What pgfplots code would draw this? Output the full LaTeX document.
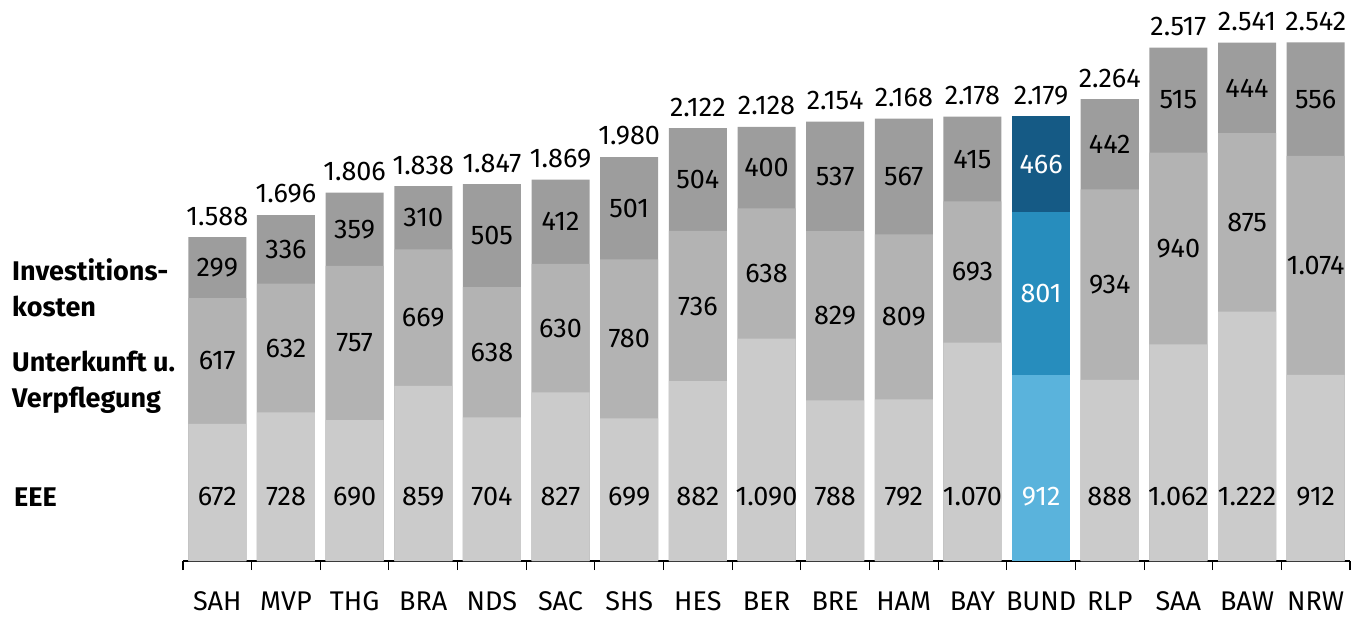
\documentclass[border=0pt]{standalone}
\usepackage{fontspec}
\setmainfont{Fira Sans}
\usepackage{pgfplots}
\usepackage{pgfplotstable}
\pgfplotsset{compat=1.18}

\definecolor{ginv}{HTML}{9D9D9D}
\definecolor{guv}{HTML}{B3B3B3}
\definecolor{geee}{HTML}{CBCBCB}
\definecolor{binv}{HTML}{155A85}
\definecolor{buv}{HTML}{278DBD}
\definecolor{beee}{HTML}{5AB3DC}

\newcommand{\lbl}{\fontsize{27}{36}\selectfont}

\pgfplotstableread{
x name eee uv inv
0 SAH 672 617 299
1 MVP 728 632 336
2 THG 690 757 359
3 BRA 859 669 310
4 NDS 704 638 505
5 SAC 827 630 412
6 SHS 699 780 501
7 HES 882 736 504
8 BER 1090 638 400
9 BRE 788 829 537
10 HAM 792 809 567
11 BAY 1070 693 415
12 BUND 912 801 466
13 RLP 888 934 442
14 SAA 1062 940 515
15 BAW 1222 875 444
16 NRW 912 1074 556
}\data

\pgfplotsset{
  nobund/.style={x filter/.expression={x==12 ? nan : x}},
  bund/.style={x filter/.expression={x==12 ? x : nan}},
  seg/.style={ybar, bar shift=0pt, draw=none, fill=#1},
  lab/.style={draw=none, mark=none, nodes near coords,
    every node near coord/.append style={anchor=center, font=\lbl, text=#1}},
}

\begin{document}
\begin{tikzpicture}
\begin{axis}[
  scale only axis, width=1167pt, height=561pt,
  xmin=-0.5, xmax=16.5, ymin=0, ymax=2750,
  axis x line*=bottom, axis y line=none, ytick=\empty,
  axis line style={line width=1.3pt, black},
  xtick={0,...,16}, xticklabels from table={\data}{name},
  major tick length=0pt,
  minor xtick={-0.5,0.5,...,16.5},
  minor tick length=9pt, tick align=outside,
  minor tick style={line width=1.1pt, black},
  xticklabel style={font=\lbl, anchor=base, inner sep=0pt, yshift=-49pt},
  bar width=0.845,
  clip=false,
  /pgf/number format/.cd, fixed, precision=0, 1000 sep={.}, assume math mode=true,
]
% bars, drawn from the top segment down so that they overlap
\addplot[seg=ginv, nobund] table[x=x, y expr=\thisrow{eee}+\thisrow{uv}+\thisrow{inv}] {\data};
\addplot[seg=guv, nobund] table[x=x, y expr=\thisrow{eee}+\thisrow{uv}] {\data};
\addplot[seg=geee, nobund] table[x=x, y=eee] {\data};
\addplot[seg=binv, bund] table[x=x, y expr=\thisrow{eee}+\thisrow{uv}+\thisrow{inv}] {\data};
\addplot[seg=buv, bund] table[x=x, y expr=\thisrow{eee}+\thisrow{uv}] {\data};
\addplot[seg=beee, bund] table[x=x, y=eee] {\data};

% segment values
\addplot[lab=black, nobund, point meta=explicit] table[x=x, y expr=\thisrow{eee}+\thisrow{uv}+\thisrow{inv}/2, meta=inv] {\data};
\addplot[lab=black, nobund, point meta=explicit] table[x=x, y expr=\thisrow{eee}+\thisrow{uv}/2, meta=uv] {\data};
\addplot[lab=black, nobund, point meta=explicit] table[x=x, y expr=314, meta=eee] {\data};
\addplot[lab=white, bund, point meta=explicit] table[x=x, y expr=\thisrow{eee}+\thisrow{uv}+\thisrow{inv}/2, meta=inv] {\data};
\addplot[lab=white, bund, point meta=explicit] table[x=x, y expr=\thisrow{eee}+\thisrow{uv}/2, meta=uv] {\data};
\addplot[lab=white, bund, point meta=explicit] table[x=x, y expr=314, meta=eee] {\data};

% totals above the bars
\addplot[lab=black, point meta=y, every node near coord/.append style={yshift=21pt}]
  table[x=x, y expr=\thisrow{eee}+\thisrow{uv}+\thisrow{inv}] {\data};

% row labels on the left
\node[anchor=west, align=left, font=\lbl\bfseries, inner sep=0pt] at ([xshift=-171pt]axis cs:-0.5,1338) {Investitions-\\kosten};
\node[anchor=west, align=left, font=\lbl\bfseries, inner sep=0pt] at ([xshift=-171pt]axis cs:-0.5,877) {Unterkunft u.\\Verpflegung};
\node[anchor=west, align=left, font=\lbl\bfseries, inner sep=0pt] at ([xshift=-169pt]axis cs:-0.5,314) {EEE};
\end{axis}
\pgfresetboundingbox
\path[use as bounding box] ([xshift=-183pt,yshift=-58pt]current axis.south west) rectangle ([xshift=16pt]current axis.north east);
\end{tikzpicture}
\end{document}
